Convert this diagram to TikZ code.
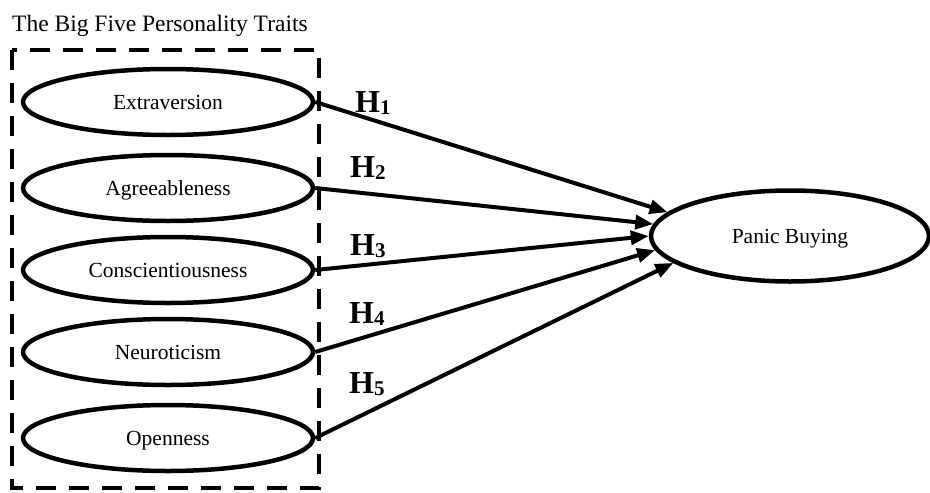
\documentclass[tikz,border=0pt]{standalone}
\usepackage{fontspec}
\setmainfont{Liberation Serif}
\usetikzlibrary{shapes.geometric,arrows.meta}
\newcommand{\hsub}[1]{H\raisebox{-2.5pt}{\fontsize{21}{21}\selectfont\bfseries #1}}
\begin{document}
\begin{tikzpicture}[x=1pt,y=-1pt,
  trait/.style={ellipse,draw,line width=4.5pt,minimum width=290pt,minimum height=66pt,inner sep=0pt,text height=15pt,text depth=0pt,font=\fontsize{21.5}{24}\selectfont},
  outcome/.style={ellipse,draw,line width=4.5pt,minimum width=278pt,minimum height=91pt,inner sep=0pt,text height=15pt,text depth=0pt,font=\fontsize{21.5}{24}\selectfont},
  link/.style={line width=4pt,-{Triangle[length=18pt,width=14pt]}},
  hyp/.style={anchor=base west,inner sep=0pt,font=\fontsize{32}{34}\selectfont\bfseries},
  group/.style={draw,line width=3.5pt,dash pattern=on 20pt off 13pt}]
\useasboundingbox (0,0) rectangle (930,493);
\node[anchor=base west,inner sep=0pt,font=\fontsize{23.5}{26}\selectfont] (title) at (12,31) {The Big Five Personality Traits};
\coordinate (boxtl) at (12,50);
\coordinate (boxbr) at (319,488);
\draw[group] (boxtl) rectangle (boxbr);
\node[trait] (e) at (168,102) {Extraversion};
\node[trait] (a) at (168,188) {Agreeableness};
\node[trait] (c) at (168,270) {Conscientiousness};
\node[trait] (n) at (168,352) {Neuroticism};
\node[trait] (o) at (168,438) {Openness};
\node[outcome] (pb) at (790,236) {Panic Buying};
\draw[link] (e.east) -- (pb.169.5);
\draw[link] (a.east) -- (pb.175.3);
\draw[link] (c.east) -- (pb.180.8);
\draw[link] (n.east) -- (pb.186);
\draw[link] (o.east) -- (pb.193.3);
\node[hyp] (h1) at (355,112) {\hsub{1}};
\node[hyp] (h2) at (350,177) {\hsub{2}};
\node[hyp] (h3) at (350,255) {\hsub{3}};
\node[hyp] (h4) at (349,323) {\hsub{4}};
\node[hyp] (h5) at (349,393) {\hsub{5}};
\end{tikzpicture}
\end{document}
